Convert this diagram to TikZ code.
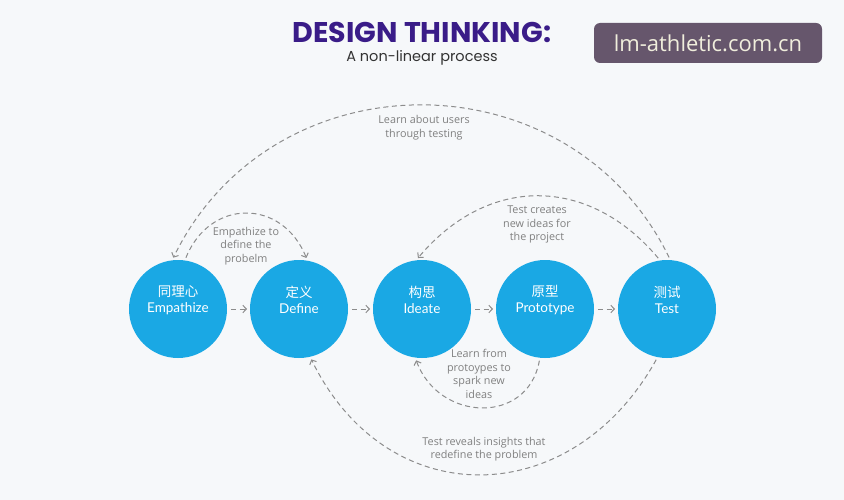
\documentclass[tikz,border=0pt]{standalone}
\usepackage{fontspec}
\setmainfont{Lato}
\newfontfamily\cjk{Noto Sans CJK SC}
\newfontfamily\titlefont{Poppins}
\newfontfamily\lblfont{Open Sans}
\newfontfamily\wmfont{Open Sans}
\usetikzlibrary{arrows.meta}
\definecolor{bg}{RGB}{246,248,250}
\definecolor{blueC}{RGB}{26,168,228}
\definecolor{purp}{RGB}{58,28,136}
\definecolor{arcC}{RGB}{140,140,140}
\definecolor{lblC}{RGB}{128,128,128}
\definecolor{wmbg}{RGB}{102,86,108}
\definecolor{wmtx}{RGB}{240,238,220}
\tikzset{
  stage/.style={circle,fill=blueC,minimum size=98pt,inner sep=0pt,outer sep=0pt},
  stagetext/.style={text=white,align=center,font=\fontsize{13.5}{16}\selectfont,inner sep=0pt},
  flow/.style={draw=arcC,line width=1pt,dash pattern=on 5pt off 3.5pt,
    -{Straight Barb[length=3.5pt,width=7.5pt]},shorten >=3pt,shorten <=3pt},
  lbl/.style={text=lblC,align=center,font=\lblfont\fontsize{10.8}{13.5}\selectfont,inner sep=1pt}
}
\begin{document}
\begin{tikzpicture}[x=1pt,y=1pt]
\fill[bg] (0,0) rectangle (844,-500);
\useasboundingbox (0,0) rectangle (844,-500);
% title
\node[text=purp,font=\titlefont\bfseries\fontsize{28.5}{31}\selectfont,inner sep=0pt,
  anchor=base,text height=20pt,text depth=0pt] (title) at (422,-43) {DESIGN THINKING:};
\node[text=black!80,font=\titlefont\fontsize{14.5}{17}\selectfont,inner sep=0pt,
  anchor=base,text height=11pt,text depth=3pt] (sub) at (422,-62) {A non-linear process};
% watermark
\node[fill=wmbg,rounded corners=6pt,minimum width=228pt,minimum height=40pt,inner sep=0pt,
  text=wmtx,font=\wmfont\fontsize{22}{24}\selectfont] (wm) at (708,-43) {lm-athletic.com.cn};
% stages
\node[stage] (e) at (178,-309) {};
\node[stage] (d) at (299,-309) {};
\node[stage] (i) at (422,-309) {};
\node[stage] (p) at (545,-309) {};
\node[stage] (t) at (667,-309) {};
\node[stagetext] (et) at (178,-300) {{\cjk 同理心}\\Empathize};
\node[stagetext] (dt) at (299,-300) {{\cjk 定义}\\Define};
\node[stagetext] (it) at (422,-300) {{\cjk 构思}\\Ideate};
\node[stagetext] (pt) at (545,-300) {{\cjk 原型}\\Prototype};
\node[stagetext] (tt) at (667,-300) {{\cjk 测试}\\Test};
% straight arrows
\draw[flow,shorten <=4pt] (e) -- (d);
\draw[flow,shorten <=4pt] (d) -- (i);
\draw[flow,shorten <=4pt] (i) -- (p);
\draw[flow,shorten <=4pt] (p) -- (t);
% arcs
\draw[flow] (t.86) to[out=116,in=64,looseness=1.18] (e.97);
\draw[flow] (e.82) to[out=68,in=112,looseness=1.4] (d.80);
\draw[flow] (t.98) to[out=130,in=50,looseness=1.17] (i.97);
\draw[flow] (p.264) to[out=260,in=290,looseness=1.41] (i.262);
\draw[flow] (t.259) to[out=241,in=296,looseness=1.3] (d.283);
% labels
\node[lbl] (l1) at (424,-127.5) {Learn about users\\through testing};
\node[lbl] (l2) at (246,-246) {Empathize to\\define the\\probelm};
\node[lbl] (l3) at (537,-224.5) {Test creates\\new ideas for\\the project};
\node[lbl] (l4) at (479,-374) {Learn from\\protoypes to\\spark new\\ideas};
\node[lbl] (l5) at (484,-449) {Test reveals insights that\\redefine the problem};
\end{tikzpicture}
\end{document}
